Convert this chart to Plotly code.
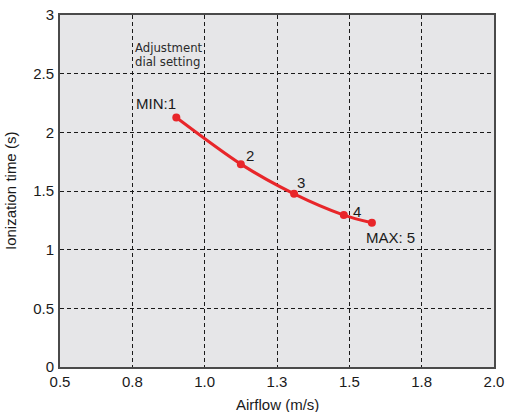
import plotly.graph_objects as go

airflow = [0.902, 1.125, 1.309, 1.481, 1.578]
ion_time = [2.126, 1.729, 1.476, 1.295, 1.229]
point_labels = ["MIN:1", "2", "3", "4", "MAX: 5"]
x_ticks = [0.5, 0.75, 1.0, 1.25, 1.5, 1.75, 2.0]
x_tick_text = ["0.5", "0.8", "1.0", "1.3", "1.5", "1.8", "2.0"]
y_ticks = [0, 0.5, 1, 1.5, 2, 2.5, 3]
y_tick_text = ["0", "0.5", "1", "1.5", "2", "2.5", "3"]
x_title = "Airflow (m/s)"
y_title = "Ionization time (s)"

FONT = "Liberation Sans, Arial, sans-serif"
NARROW = "DejaVu Sans Condensed, Liberation Sans, sans-serif"
INK = "#1a1a1a"

fig = go.Figure()
fig.add_trace(go.Scatter(
    x=airflow, y=ion_time, mode="lines+markers",
    line=dict(color="#e8262a", width=3, shape="spline", smoothing=0.8),
    marker=dict(color="#e8262a", size=8),
    hoverinfo="skip", showlegend=False,
))

label_pos = [
    dict(xshift=-20, yshift=14),
    dict(xshift=9, yshift=9),
    dict(xshift=7, yshift=11),
    dict(xshift=13, yshift=4),
    dict(xshift=19, yshift=-15),
]
for xv, yv, t, p in zip(airflow, ion_time, point_labels, label_pos):
    fig.add_annotation(x=xv, y=yv, text=t, showarrow=False,
                       xshift=p["xshift"], yshift=p["yshift"],
                       font=dict(size=15, color=INK, family=FONT))

for txt, yv in [("Adjustment", 2.72), ("dial setting", 2.605)]:
    fig.add_annotation(x=0.75, y=yv, xref="x", yref="y", text=txt,
                       showarrow=False, xanchor="left", yanchor="middle", xshift=1,
                       font=dict(size=13, color="#2a2a2a", family=NARROW))

# axis titles placed as annotations for exact positioning
fig.add_annotation(x=0, y=0.5, xref="paper", yref="paper", text=y_title,
                   textangle=-90, showarrow=False, xanchor="center", yanchor="middle",
                   xshift=-50, font=dict(size=15, color=INK, family=FONT))
fig.add_annotation(x=0.5, y=0, xref="paper", yref="paper", text=x_title,
                   showarrow=False, xanchor="center", yanchor="middle",
                   yshift=-37, font=dict(size=15, color=INK, family=FONT))

axis_common = dict(
    showgrid=True, gridcolor=INK, griddash="4px,3px", gridwidth=1.3,
    showline=True, linecolor="#4a4a4a", linewidth=2, mirror=True,
    ticks="", zeroline=False, automargin=False, ticklabeloverflow="allow",
    tickfont=dict(size=15, color=INK, family=FONT),
)

fig.update_xaxes(range=[0.5, 2.0], tickvals=x_ticks, ticktext=x_tick_text, **axis_common)
fig.update_yaxes(range=[0, 3], tickvals=y_ticks, ticktext=y_tick_text,
                 ticklabelstandoff=1, **axis_common)

fig.update_layout(
    width=509, height=412,
    margin=dict(l=60, r=15, t=15, b=45),
    plot_bgcolor="#e6e6e8", paper_bgcolor="white",
)

fig.write_html("out.html", config={"displayModeBar": False},
               post_script="document.body.style.margin='0';document.body.style.overflow='hidden';")
